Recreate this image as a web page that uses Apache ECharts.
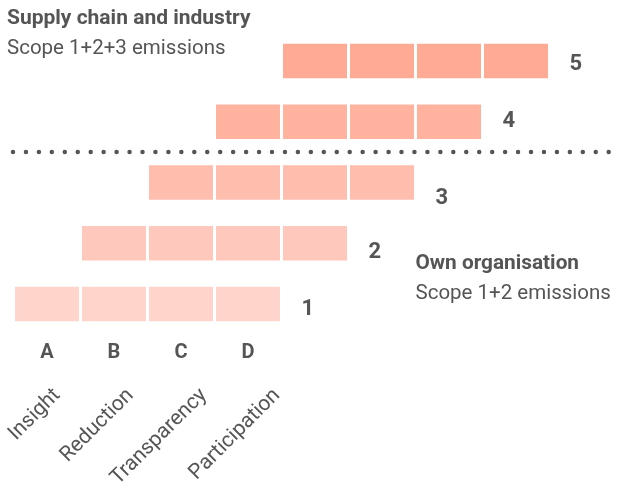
<!DOCTYPE html>
<html><head><meta charset="utf-8">
<script src="https://cdn.jsdelivr.net/npm/echarts@6/dist/echarts.min.js"></script>
<style>html,body{margin:0;padding:0;background:#fff}#c{width:618px;height:491px}</style>
</head><body><div id="c"></div>
<script>
const levels = ['1', '2', '3', '4', '5'];
const levelStarts = [0, 1, 2, 3, 4];
const stages = ['A', 'B', 'C', 'D'];
const stageNames = ['Insight', 'Reduction', 'Transparency', 'Participation'];
const segmentSizes = [1, 1, 1, 1];
const columnCount = 9;

const levelColors = ['#FFD4CA', '#FFC8BC', '#FFBDAD', '#FFB29E', '#FFAA95'];
const labelOffsets = [[0, 6], [0, 9], [0, 16], [0, 0], [0, 4]];
const FONT = 'Roboto';
const TXT = '#555555';

const chart = echarts.init(document.getElementById('c'), null, {renderer: 'canvas'});

const gridLeft = 13.5, colW = 67, gridTop = 30.6, gridH = 303.75;
const nameColW = 73.3;
const catAxisData = Array.from({length: columnCount}, (_, i) => stages[i] || '');

const series = [{
  type: 'bar', stack: 's', barWidth: 37.5, silent: true,
  itemStyle: {color: 'transparent'},
  data: levelStarts
}];
segmentSizes.forEach((sz, k) => {
  series.push({
    type: 'bar', stack: 's', barWidth: 37.5, silent: true,
    data: levels.map((lv, i) => ({
      value: sz,
      itemStyle: {color: levelColors[i], borderColor: '#ffffff', borderWidth: 1.5},
      label: k === segmentSizes.length - 1 ? {
        show: true, position: 'right', distance: 20, formatter: lv,
        offset: labelOffsets[i], fontFamily: FONT, fontWeight: 'bold', fontSize: 22, color: TXT
      } : {show: false}
    }))
  });
});

chart.setOption({
  animation: false,
  title: [
    {text: 'Supply chain and industry', subtext: 'Scope 1+2+3 emissions', left: 7, top: 8, itemGap: 9, padding: 0,
     textStyle: {fontFamily: FONT, fontWeight: 'bold', fontSize: 21, color: TXT},
     subtextStyle: {fontFamily: FONT, fontSize: 20.5, color: TXT}},
    {text: 'Own organisation', subtext: 'Scope 1+2 emissions', left: 415.5, top: 253, itemGap: 9, padding: 0,
     textStyle: {fontFamily: FONT, fontWeight: 'bold', fontSize: 20.8, color: TXT},
     subtextStyle: {fontFamily: FONT, fontSize: 20.5, color: TXT}}
  ],
  grid: [
    {left: gridLeft, width: colW * columnCount, top: gridTop, height: gridH},
    {left: 20.5, width: nameColW * stageNames.length, top: gridTop, height: gridH}
  ],
  xAxis: [
    {type: 'value', gridIndex: 0, min: 0, max: columnCount, show: false},
    {type: 'category', gridIndex: 0, data: catAxisData, position: 'bottom',
     axisLine: {show: false}, axisTick: {show: false},
     axisLabel: {interval: 0, margin: 8.5, fontFamily: FONT, fontWeight: 'bold', fontSize: 20, color: TXT}},
    {type: 'category', gridIndex: 1, data: stageNames, position: 'bottom',
     axisLine: {show: false}, axisTick: {show: false},
     axisLabel: {interval: 0, rotate: 45, margin: 64.5, fontFamily: FONT, fontSize: 21, color: TXT}}
  ],
  yAxis: [
    {type: 'category', gridIndex: 0, data: levels, show: false},
    {type: 'category', gridIndex: 1, data: levels, show: false}
  ],
  graphic: [{
    type: 'line', silent: true,
    shape: {x1: 13, y1: 152, x2: 615, y2: 152},
    style: {stroke: '#555555', lineWidth: 4.5, lineDash: [0, 12.95], lineCap: 'round'}
  }],
  series: series
});
</script></body></html>
